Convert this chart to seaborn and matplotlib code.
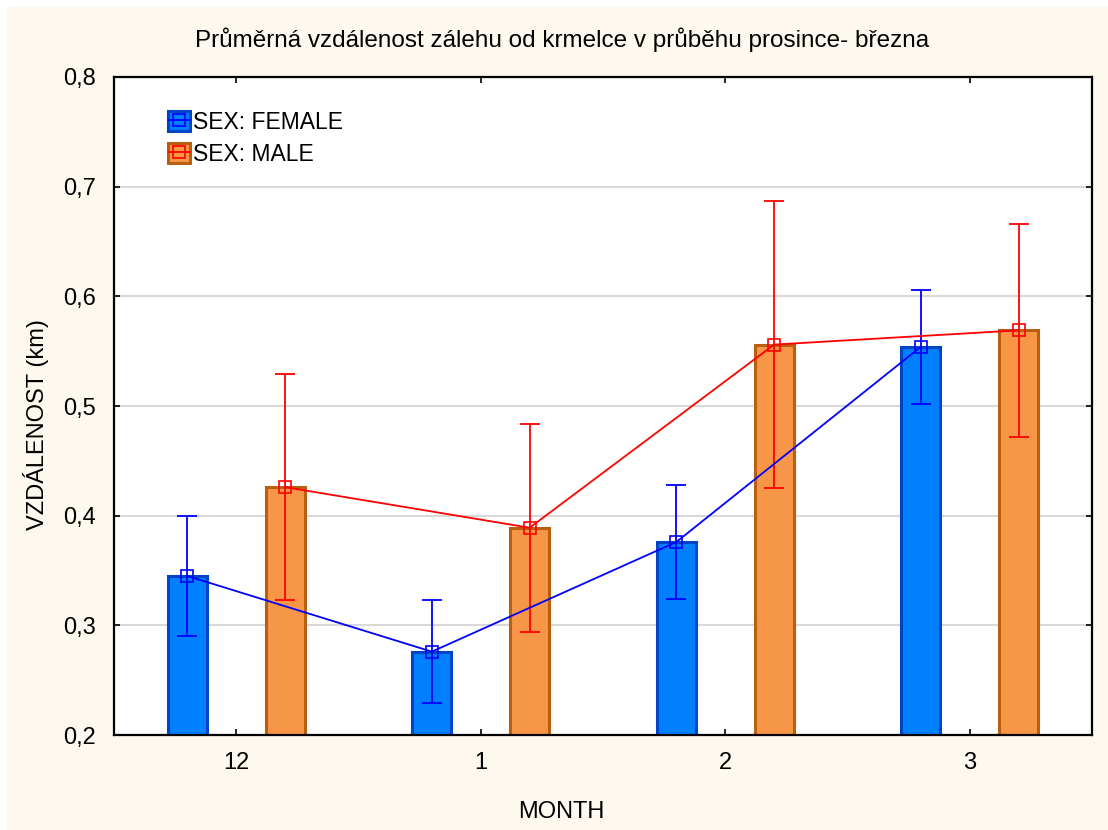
import matplotlib
matplotlib.use("Agg")
import matplotlib.pyplot as plt
from matplotlib.patches import Patch, Rectangle
from matplotlib.lines import Line2D
from matplotlib.legend_handler import HandlerTuple
from matplotlib.ticker import FuncFormatter
import numpy as np
import pandas as pd
import seaborn as sns

# ---- data ----
months = ["12", "1", "2", "3"]
female_mean = [0.345, 0.276, 0.376, 0.554]
female_err = [0.055, 0.047, 0.052, 0.052]
male_mean = [0.426, 0.389, 0.556, 0.569]
male_err = [0.103, 0.095, 0.131, 0.097]
sexes = ["SEX: FEMALE", "SEX: MALE"]

title = "Průměrná vzdálenost zálehu od krmelce v průběhu prosince- března"

sns.set_theme(style="white")
plt.rcParams["font.family"] = ["Liberation Sans", "DejaVu Sans"]
plt.rcParams["text.color"] = "black"

bg = "#fdf9ee"
fig = plt.figure(figsize=(11.08, 8.30), dpi=100)
fig.patch.set_facecolor(bg)
fig.patches.append(Rectangle((0, 1 - 7 / 830), 1, 7 / 830, transform=fig.transFigure,
                             facecolor="white", edgecolor="none", zorder=-10))
fig.patches.append(Rectangle((0, 0), 7 / 1108, 1, transform=fig.transFigure,
                             facecolor="white", edgecolor="none", zorder=-10))

ax = fig.add_axes([114 / 1108, 1 - 735 / 830, 978 / 1108, 658 / 830])
ax.set_facecolor("white")

df = pd.DataFrame({
    "MONTH": months * 2,
    "SEX": [sexes[0]] * 4 + [sexes[1]] * 4,
    "VAL": female_mean + male_mean,
})

fill = {sexes[0]: "#0080ff", sexes[1]: "#f79646"}
edge = {sexes[0]: "#0044c8", sexes[1]: "#b8600f"}
linec = {sexes[0]: "#0000ff", sexes[1]: "#ff0000"}

sns.barplot(data=df, x="MONTH", y="VAL", hue="SEX", order=months, hue_order=sexes,
            palette=fill, saturation=1, errorbar=None, width=0.8, gap=0.6, ax=ax,
            linewidth=2.2, legend=False, zorder=2)
for i, p in enumerate(ax.patches):
    s = sexes[0] if i < len(months) else sexes[1]
    p.set_edgecolor(edge[s])
    p.set_facecolor(fill[s])

x = np.arange(len(months))
for s, means, errs, off in [(sexes[0], female_mean, female_err, -0.2),
                            (sexes[1], male_mean, male_err, 0.2)]:
    ax.errorbar(x + off, means, yerr=errs, fmt="none", ecolor=linec[s],
                elinewidth=1.3, capsize=7, capthick=1.3, zorder=4)
    ax.plot(x + off, means, color=linec[s], lw=1.3, marker="s", markersize=8,
            markerfacecolor="none", markeredgecolor=linec[s], markeredgewidth=1.2, zorder=5)

ax.set_ylim(0.2, 0.8)
ax.set_xlim(-0.5, len(months) - 0.5)
ax.set_yticks(np.arange(0.2, 0.81, 0.1))
ax.yaxis.set_major_formatter(FuncFormatter(lambda v, _: f"{v:.1f}".replace(".", ",")))
ax.yaxis.grid(True, color="#d9d9d9", lw=1.5, zorder=0)
ax.set_axisbelow(True)
ax.tick_params(axis="both", direction="in", length=4, width=1.2, color="black",
               labelsize=17, labelcolor="black", pad=12,
               top=True, right=True, bottom=True, left=True)
ax.tick_params(axis="y", pad=13)
for sp in ax.spines.values():
    sp.set_color("black")
    sp.set_linewidth(1.6)

ax.set_xlabel("")
ax.set_ylabel("")
fig.text(36 / 1108, 1 - 425 / 830, "VZDÁLENOST (km)", rotation=90, ha="center",
         va="center", fontsize=17, color="black")
fig.text(561 / 1108, 1 - 812 / 830, "MONTH", ha="center", va="center",
         fontsize=17, color="black")
fig.text(562 / 1108, 1 - 40 / 830, title, ha="center", va="center",
         fontsize=17.5, color="black")

handles = []
for s in sexes:
    h = (Patch(facecolor=fill[s], edgecolor=edge[s], linewidth=2.2),
         Line2D([], [], color=linec[s], lw=1.3, marker="s", markersize=8,
                markerfacecolor="none", markeredgecolor=linec[s], markeredgewidth=1.2))
    handles.append(h)
ax.legend(handles, sexes, handler_map={tuple: HandlerTuple(ndivide=1, pad=0)},
          loc="upper left", bbox_to_anchor=(0.044, 0.966), frameon=False,
          fontsize=16.5, labelcolor="black", borderpad=0, handlelength=0.95,
          handleheight=0.95, handletextpad=0.1, labelspacing=0.4)

fig.savefig("out.png", dpi=100, facecolor=fig.get_facecolor())
